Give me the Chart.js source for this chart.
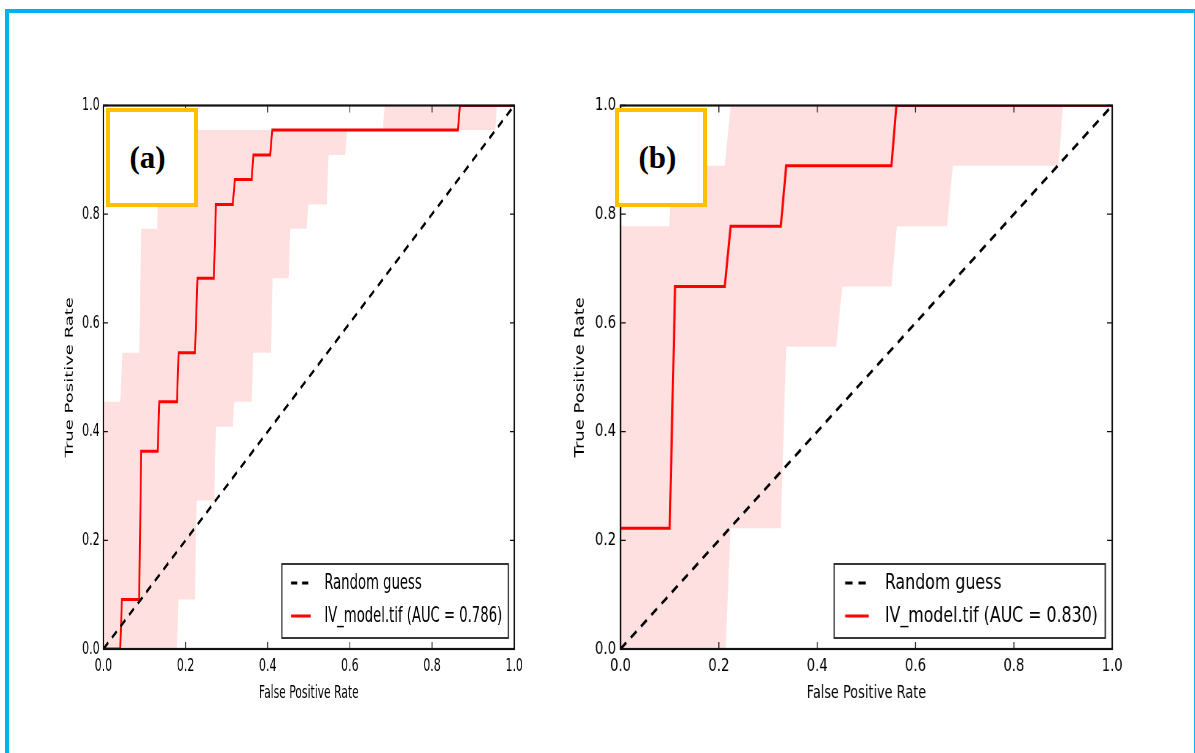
<!DOCTYPE html>
<html>
<head>
<meta charset="utf-8">
<script src="https://cdn.jsdelivr.net/npm/chart.js@4.4.0/dist/chart.umd.min.js"></script>
<style>
  html, body { margin: 0; padding: 0; background: #fff; overflow: hidden; }
  body { width: 1195px; height: 753px; position: relative; }
  #frame { position: absolute; left: 5px; top: 9px; width: 1193px; height: 800px;
           border: 4px solid #00b0f0; box-sizing: border-box; }
  canvas.roc { position: absolute; top: 60px; transform-origin: 0 0; }
  .tag { position: absolute; top: 108px; width: 92px; height: 99px; box-sizing: border-box;
         border: 4px solid #ffc000; background: #fff; display: flex; align-items: center;
         justify-content: center; color: #000;
         font: bold 31px "Liberation Serif", "DejaVu Serif", serif; }
</style>
</head>
<body>
<div id="frame"></div>
<canvas id="chartA" class="roc" width="820" height="660"></canvas>
<canvas id="chartB" class="roc" width="820" height="660"></canvas>
<div class="tag" style="left:106px; padding-right:9px">(a)</div>
<div class="tag" style="left:615px; padding-right:7px">(b)</div>
<script>
// axis ticks
const tickValues = [0, 0.2, 0.4, 0.6, 0.8, 1.0];
const tickLabels = ['0.0', '0.2', '0.4', '0.6', '0.8', '1.0'];

// random guess diagonal
const guessFpr = [0, 1];
const guessTpr = [0, 1];

// panel (a): mean ROC
const rocAFpr = [0, 0.041, 0.045, 0.087, 0.092, 0.132, 0.136, 0.179, 0.183, 0.223, 0.229,
                 0.269, 0.274, 0.315, 0.320, 0.361, 0.365, 0.406, 0.411, 0.863, 0.868, 1.0];
const rocATpr = [0, 0, 0.091, 0.091, 0.364, 0.364, 0.455, 0.455, 0.545, 0.545, 0.682,
                 0.682, 0.818, 0.818, 0.864, 0.864, 0.909, 0.909, 0.955, 0.955, 1.0, 1.0];
// panel (a): band upper / lower
const upperAFpr = [0, 0.041, 0.046, 0.087, 0.092, 0.131, 0.136, 0.680, 0.685, 1.0];
const upperATpr = [0.455, 0.455, 0.545, 0.545, 0.773, 0.773, 0.955, 0.955, 1.0, 1.0];
const lowerAFpr = [0, 0.179, 0.183, 0.223, 0.227, 0.270, 0.274, 0.315, 0.319, 0.361, 0.365,
                   0.408, 0.412, 0.451, 0.455, 0.495, 0.499, 0.544, 0.548, 0.589, 0.593,
                   0.954, 0.958, 1.0];
const lowerATpr = [0, 0, 0.091, 0.091, 0.273, 0.273, 0.409, 0.409, 0.455, 0.455, 0.545,
                   0.545, 0.682, 0.682, 0.773, 0.773, 0.818, 0.818, 0.909, 0.909, 0.955,
                   0.955, 1.0, 1.0];

// panel (b): mean ROC
const rocBFpr = [0, 0.100, 0.111, 0.212, 0.224, 0.326, 0.337, 0.551, 0.561, 1.0];
const rocBTpr = [0.222, 0.222, 0.667, 0.667, 0.778, 0.778, 0.889, 0.889, 1.0, 1.0];
// panel (b): band upper / lower
const upperBFpr = [0, 0.099, 0.104, 0.212, 0.224, 1.0];
const upperBTpr = [0.778, 0.778, 0.889, 0.889, 1.0, 1.0];
const lowerBFpr = [0, 0.214, 0.224, 0.326, 0.337, 0.439, 0.451, 0.551, 0.562, 0.664, 0.676,
                   0.891, 0.900, 1.0];
const lowerBTpr = [0, 0, 0.222, 0.222, 0.556, 0.556, 0.667, 0.667, 0.778, 0.778, 0.889,
                   0.889, 1.0, 1.0];

const labelA = 'IV_model.tif (AUC = 0.786)';
const labelB = 'IV_model.tif (AUC = 0.830)';

// canvas layout (canvas px, the canvas is squeezed horizontally like the original figure)
const W = 820, H = 660;
const PLOT_L = 100, PLOT_R = 769, PLOT_T = 45.5, PLOT_B = 589;
const X_AXIS_H = 55;

const pts = (xs, ys) => xs.map((x, i) => ({ x: x, y: ys[i] }));

// frame + inward ticks on all four sides
const rocFrame = {
    id: 'rocFrame',
    afterDatasetsDraw(chart) {
        const { ctx, chartArea: { left, right, top, bottom }, scales: { x, y } } = chart;
        ctx.save();
        ctx.strokeStyle = '#111';
        ctx.lineWidth = 1.3;
        tickValues.forEach(v => {
            const px = x.getPixelForValue(v);
            const py = y.getPixelForValue(v);
            ctx.beginPath();
            ctx.moveTo(px, bottom); ctx.lineTo(px, bottom - 7);
            ctx.moveTo(px, top); ctx.lineTo(px, top + 7);
            ctx.moveTo(left, py); ctx.lineTo(left + 7, py);
            ctx.moveTo(right, py); ctx.lineTo(right - 7, py);
            ctx.stroke();
        });
        ctx.lineWidth = 2.2;
        ctx.strokeRect(left, top, right - left, bottom - top);
        ctx.restore();
    }
};

// boxed legend in the lower right corner
const rocLegend = {
    id: 'rocLegend',
    afterDraw(chart) {
        const { ctx, chartArea: { right, bottom } } = chart;
        const items = chart.data.datasets.filter(d => d.label);
        ctx.save();
        ctx.font = '21.5px "DejaVu Sans"';
        const textW = Math.max(...items.map(d => ctx.measureText(d.label).width));
        const w = 69 + textW + 10, h = 74;
        const bx = right - 9.5 - w, by = bottom - 11 - h;
        ctx.fillStyle = '#fff';
        ctx.fillRect(bx, by, w, h);
        ctx.strokeStyle = '#222';
        ctx.lineWidth = 1.8;
        ctx.strokeRect(bx, by, w, h);
        items.forEach((d, i) => {
            const cy = by + 19 + i * 33;
            ctx.beginPath();
            ctx.strokeStyle = d.borderColor;
            ctx.lineWidth = d.borderWidth;
            ctx.setLineDash(d.borderDash || []);
            ctx.moveTo(bx + 15, cy);
            ctx.lineTo(bx + 47, cy);
            ctx.stroke();
            ctx.setLineDash([]);
            ctx.fillStyle = '#000';
            ctx.textAlign = 'left';
            ctx.textBaseline = 'middle';
            ctx.fillText(d.label, bx + 69, cy);
        });
        ctx.restore();
    }
};

function makeChart(id, squeeze, leftPx, rocFpr, rocTpr, upFpr, upTpr, loFpr, loTpr, rocLabel) {
    const canvas = document.getElementById(id);
    canvas.style.left = leftPx + 'px';
    canvas.style.transform = 'scaleX(' + squeeze + ')';
    const tickFont = { family: 'DejaVu Sans', size: 18 };
    return new Chart(canvas, {
        type: 'scatter',
        data: {
            datasets: [
                { label: 'Random guess', data: pts(guessFpr, guessTpr), showLine: true,
                  borderColor: '#000', borderWidth: 3, borderDash: [10, 8], pointRadius: 0, fill: false },
                { label: rocLabel, data: pts(rocFpr, rocTpr), showLine: true,
                  borderColor: '#ff0000', borderWidth: 3, pointRadius: 0, fill: false },
                { label: '', data: pts(upFpr, upTpr), showLine: true, borderWidth: 0,
                  borderColor: 'rgba(0,0,0,0)', backgroundColor: 'rgba(255,0,0,0.12)',
                  pointRadius: 0, fill: '+1' },
                { label: '', data: pts(loFpr, loTpr), showLine: true, borderWidth: 0,
                  borderColor: 'rgba(0,0,0,0)', pointRadius: 0, fill: false }
            ]
        },
        options: {
            responsive: false,
            animation: false,
            events: [],
            layout: { padding: { left: 0, right: W - PLOT_R, top: PLOT_T, bottom: H - PLOT_B - X_AXIS_H } },
            plugins: { legend: { display: false }, tooltip: { enabled: false } },
            scales: {
                x: {
                    type: 'linear', min: 0, max: 1,
                    afterFit: s => { s.height = X_AXIS_H; },
                    afterBuildTicks: s => { s.ticks = tickValues.map(v => ({ value: v })); },
                    grid: { display: false, drawTicks: false },
                    border: { display: false },
                    ticks: { padding: 7, color: '#000', font: tickFont, autoSkip: false, maxRotation: 0,
                             callback: (v, i) => tickLabels[i] },
                    title: { display: true, text: 'False Positive Rate', color: '#000',
                             font: { family: 'DejaVu Sans', size: 17.5 }, padding: 0 }
                },
                y: {
                    type: 'linear', min: 0, max: 1,
                    afterFit: s => { s.width = PLOT_L; },
                    afterBuildTicks: s => { s.ticks = tickValues.map(v => ({ value: v })); },
                    grid: { display: false, drawTicks: false },
                    border: { display: false },
                    ticks: { padding: 6, color: '#000', font: tickFont, autoSkip: false,
                             callback: (v, i) => tickLabels[i] },
                    title: { display: true, text: 'True Positive Rate', color: '#000',
                             font: { family: 'DejaVu Sans', size: 18 }, padding: { top: 35, bottom: 0 } }
                }
            }
        },
        plugins: [rocFrame, rocLegend]
    });
}

makeChart('chartA', 0.614, 41.9, rocAFpr, rocATpr, upperAFpr, upperATpr, lowerAFpr, lowerATpr, labelA);
makeChart('chartB', 0.735, 546.5, rocBFpr, rocBTpr, upperBFpr, upperBTpr, lowerBFpr, lowerBTpr, labelB);
</script>
</body>
</html>
